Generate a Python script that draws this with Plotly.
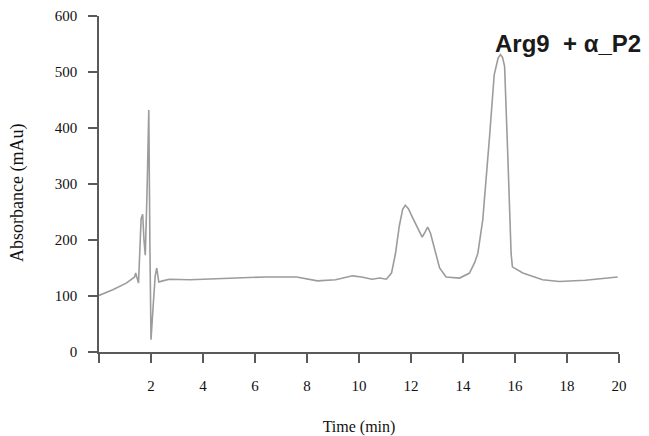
import plotly.graph_objects as go

# Chromatogram trace (time in min, absorbance in mAu)
time_min = [0.0, 0.53, 1.05, 1.37, 1.41, 1.52, 1.62, 1.68, 1.73, 1.78, 1.85, 1.915,
            1.96, 2.0, 2.08, 2.16, 2.22, 2.3, 2.45, 2.7, 3.5, 4.25, 5.5, 6.4, 7.6,
            8.4, 9.1, 9.45, 9.75, 10.1, 10.5, 10.8, 11.05, 11.25, 11.4, 11.55, 11.68,
            11.78, 11.9, 12.06, 12.25, 12.43, 12.55, 12.64, 12.75, 12.9, 13.1, 13.35,
            13.87, 14.25, 14.45, 14.57, 14.76, 15.02, 15.2, 15.35, 15.44, 15.52, 15.6,
            15.72, 15.85, 15.9, 16.3, 17.06, 17.7, 18.7, 19.75, 19.95]
absorbance = [101, 111, 123, 134, 141, 123, 238, 246, 200, 173, 290, 432,
              180, 22, 80, 135, 150, 125, 127, 130, 129, 130, 132, 134, 134,
              127, 129, 133, 136, 134, 130, 132, 130, 141, 175, 225, 255,
              262, 256, 240, 222, 205, 215, 223, 212, 187, 150, 134,
              132, 141, 160, 176, 236, 384, 495, 525, 531, 526, 510,
              355, 176, 152, 141, 129, 126, 128, 132, 134]

x_ticks = [0, 2, 4, 6, 8, 10, 12, 14, 16, 18, 20]
x_tick_labels = ["", "2", "4", "6", "8", "10", "12", "14", "16", "18", "20"]
y_ticks = [0, 100, 200, 300, 400, 500, 600]
y_tick_labels = ["0", "100", "200", "300", "400", "500", "600"]

serif = "Liberation Serif, Times New Roman, serif"

fig = go.Figure()
fig.add_trace(go.Scatter(
    x=time_min, y=absorbance, mode="lines",
    line=dict(color="#9c9c9c", width=1.6),
    showlegend=False, hoverinfo="skip"))

axis_common = dict(
    showgrid=False, zeroline=False, showline=True, automargin=False,
    linecolor="#5a5a5a", linewidth=1.5,
    ticks="outside", ticklen=9, tickwidth=1.5, tickcolor="#5a5a5a",
    tickfont=dict(family=serif, size=15, color="#111111"),
)

# the page body adds an 8px margin, so the figure is 8px smaller
fig.update_layout(
    width=641, height=428,
    margin=dict(l=91, r=30, t=8, b=84),
    paper_bgcolor="white", plot_bgcolor="white",
    xaxis=dict(range=[0, 20], tickvals=x_ticks, ticktext=x_tick_labels,
               ticklabelstandoff=10,
               title=dict(text="Time (min)", font=dict(family=serif, size=16, color="#111111"),
                          standoff=32),
               **axis_common),
    yaxis=dict(range=[0, 600], tickvals=y_ticks, ticktext=y_tick_labels,
               ticklabelstandoff=8,
               **axis_common),
    annotations=[
        dict(text="Absorbance (mAu)", textangle=-90,
             xref="paper", yref="paper", x=(17 - 99) / 520, y=(352 - 193) / 336,
             xanchor="center", yanchor="middle", showarrow=False,
             font=dict(family=serif, size=18, color="#111111")),
        dict(text="<b>Arg9\u00a0\u00a0+ α_P2</b>",
             xref="paper", yref="paper", x=(643 - 99) / 520, y=(352 - 43) / 336,
             xanchor="right", yanchor="middle", showarrow=False,
             font=dict(family="Liberation Sans, Arial, sans-serif", size=24, color="#1a1a1a")),
    ],
)

fig.write_html("out.html")
